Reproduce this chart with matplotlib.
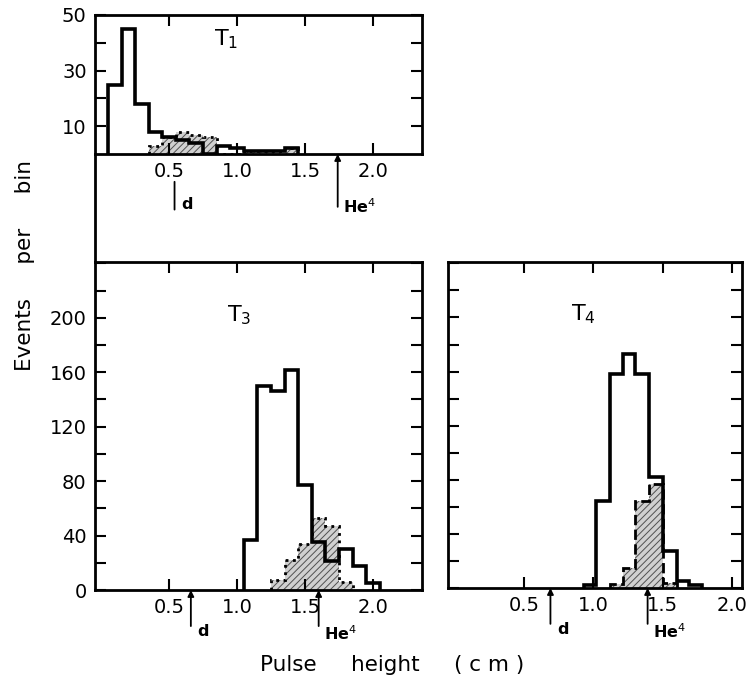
import matplotlib
matplotlib.use('Agg')
import matplotlib.pyplot as plt
from matplotlib.lines import Line2D

# bin edges and counts
t1_edges = [0.05, 0.15, 0.25, 0.35, 0.45, 0.55, 0.65, 0.75, 0.85, 0.95, 1.05, 1.15, 1.25, 1.35, 1.45]
t1_solid = [25, 45, 18, 8, 6, 5, 4, 0, 3, 2, 1, 1, 1, 2]
t1_shade_edges = [0.35, 0.45, 0.55, 0.65, 0.75, 0.85, 0.95, 1.05, 1.15, 1.25, 1.35, 1.45]
t1_shade = [3, 6, 8, 7, 6, 0, 0, 1, 1, 1, 2]

t3_edges = [1.05, 1.15, 1.25, 1.35, 1.45, 1.55, 1.65, 1.75, 1.85, 1.95, 2.05]
t3_solid = [37, 150, 146, 162, 77, 35, 21, 30, 18, 5]
t3_shade_edges = [1.25, 1.35, 1.45, 1.55, 1.65, 1.75, 1.85]
t3_shade = [7, 22, 34, 53, 47, 6]

t4_edges = [0.93, 1.02, 1.12, 1.21, 1.30, 1.40, 1.50, 1.60, 1.69, 1.78]
t4_solid = [2, 64, 158, 173, 158, 82, 27, 5, 2]
t4_shade_edges = [1.12, 1.21, 1.30, 1.40, 1.50, 1.60]
t4_shade = [3, 15, 64, 77, 4]

xticks = [0.5, 1.0, 1.5, 2.0]
xtick_labels = ['0.5', '1.0', '1.5', '2.0']
markers = {'T1': (0.54, 1.74), 'T3': (0.66, 1.60), 'T4': (0.69, 1.39)}

plt.rcParams['font.family'] = 'DejaVu Sans'
plt.rcParams['hatch.linewidth'] = 0.7

W, H = 748, 684
fig = plt.figure(figsize=(W / 100, H / 100), dpi=100)


def box(l, r, t, b):
    return fig.add_axes([l / W, 1 - b / H, (r - l) / W, (b - t) / H])


ax1 = box(95, 422, 15, 154)
ax3 = box(95, 422, 262, 590)
ax4 = box(448, 742, 262, 588)

# left frame line runs on from T1 down to T3
fig.add_artist(Line2D([95 / W, 95 / W], [1 - 154 / H, 1 - 262 / H], color='k', lw=2))


def style(ax):
    for s in ax.spines.values():
        s.set_linewidth(2)
    ax.tick_params(direction='in', length=8, width=1.5, top=True, right=True,
                   labelsize=14, pad=6)
    ax.set_xticks(xticks)
    ax.set_xticklabels(xtick_labels)


def hist(ax, edges, vals, sedges, svals, ls):
    ax.stairs(svals, sedges, baseline=0, fill=True, facecolor='#d0d0d0',
              edgecolor='#505050', hatch='/////', linewidth=0)
    ax.stairs(svals, sedges, baseline=0, color='k', linewidth=2, linestyle=ls)
    ax.stairs(vals, edges, baseline=0, color='k', linewidth=2.6)


def arrow(ax, x, top, bottom, head=True):
    tr = ax.get_xaxis_transform()
    ax.annotate('', xy=(x, top), xytext=(x, bottom), xycoords=tr, textcoords=tr,
                arrowprops=dict(arrowstyle='-|>' if head else '-', color='k', lw=1.3,
                                mutation_scale=9, shrinkA=0, shrinkB=0),
                annotation_clip=False)


def labels(ax, key, txt_y):
    xd, xhe = markers[key]
    tr = ax.get_xaxis_transform()
    ax.text(xd + 0.05, txt_y, 'd', transform=tr, fontsize=11.5, fontweight='bold',
            ha='left', va='top')
    ax.text(xhe + 0.04, txt_y, 'He$^4$', transform=tr, fontsize=11.5, fontweight='bold',
            ha='left', va='top')


# T1
style(ax1)
hist(ax1, t1_edges, t1_solid, t1_shade_edges, t1_shade, ':')
ax1.set_xlim(-0.045, 2.36)
ax1.set_ylim(0, 50)
ax1.set_yticks([10, 20, 30, 40, 50])
ax1.set_yticklabels(['10', '', '30', '', '50'])
ax1.text(0.40, 0.78, 'T$_1$', transform=ax1.transAxes, fontsize=16, ha='center')
arrow(ax1, markers['T1'][0], -0.20, -0.40, head=False)
arrow(ax1, markers['T1'][1], 0.0, -0.38)
labels(ax1, 'T1', -0.31)

# T3
style(ax3)
hist(ax3, t3_edges, t3_solid, t3_shade_edges, t3_shade, ':')
ax3.set_xlim(-0.045, 2.36)
ax3.set_ylim(0, 241)
ax3.set_yticks(list(range(0, 241, 20)))
ax3.set_yticklabels([str(v) if v % 40 == 0 and v <= 200 else '' for v in range(0, 241, 20)])
ax3.text(0.44, 0.82, 'T$_3$', transform=ax3.transAxes, fontsize=16, ha='center')
for x in markers['T3']:
    arrow(ax3, x, 0.0, -0.11)
labels(ax3, 'T3', -0.105)

# T4
style(ax4)
hist(ax4, t4_edges, t4_solid, t4_shade_edges, t4_shade, '--')
ax4.set_xlim(-0.048, 2.07)
ax4.set_ylim(0, 241)
ax4.set_yticks(list(range(0, 241, 20)))
ax4.set_yticklabels([])
ax4.text(0.46, 0.82, 'T$_4$', transform=ax4.transAxes, fontsize=16, ha='center')
for x in markers['T4']:
    arrow(ax4, x, 0.0, -0.11)
labels(ax4, 'T4', -0.105)

fig.text(25 / W, 1 - 266 / H, 'Events     per     bin', rotation=90, fontsize=15.5,
         ha='center', va='center')
fig.text(392 / W, 1 - 665 / H, 'Pulse     height     ( c m )', fontsize=15.5,
         ha='center', va='center')

fig.savefig('out.png', dpi=100)
